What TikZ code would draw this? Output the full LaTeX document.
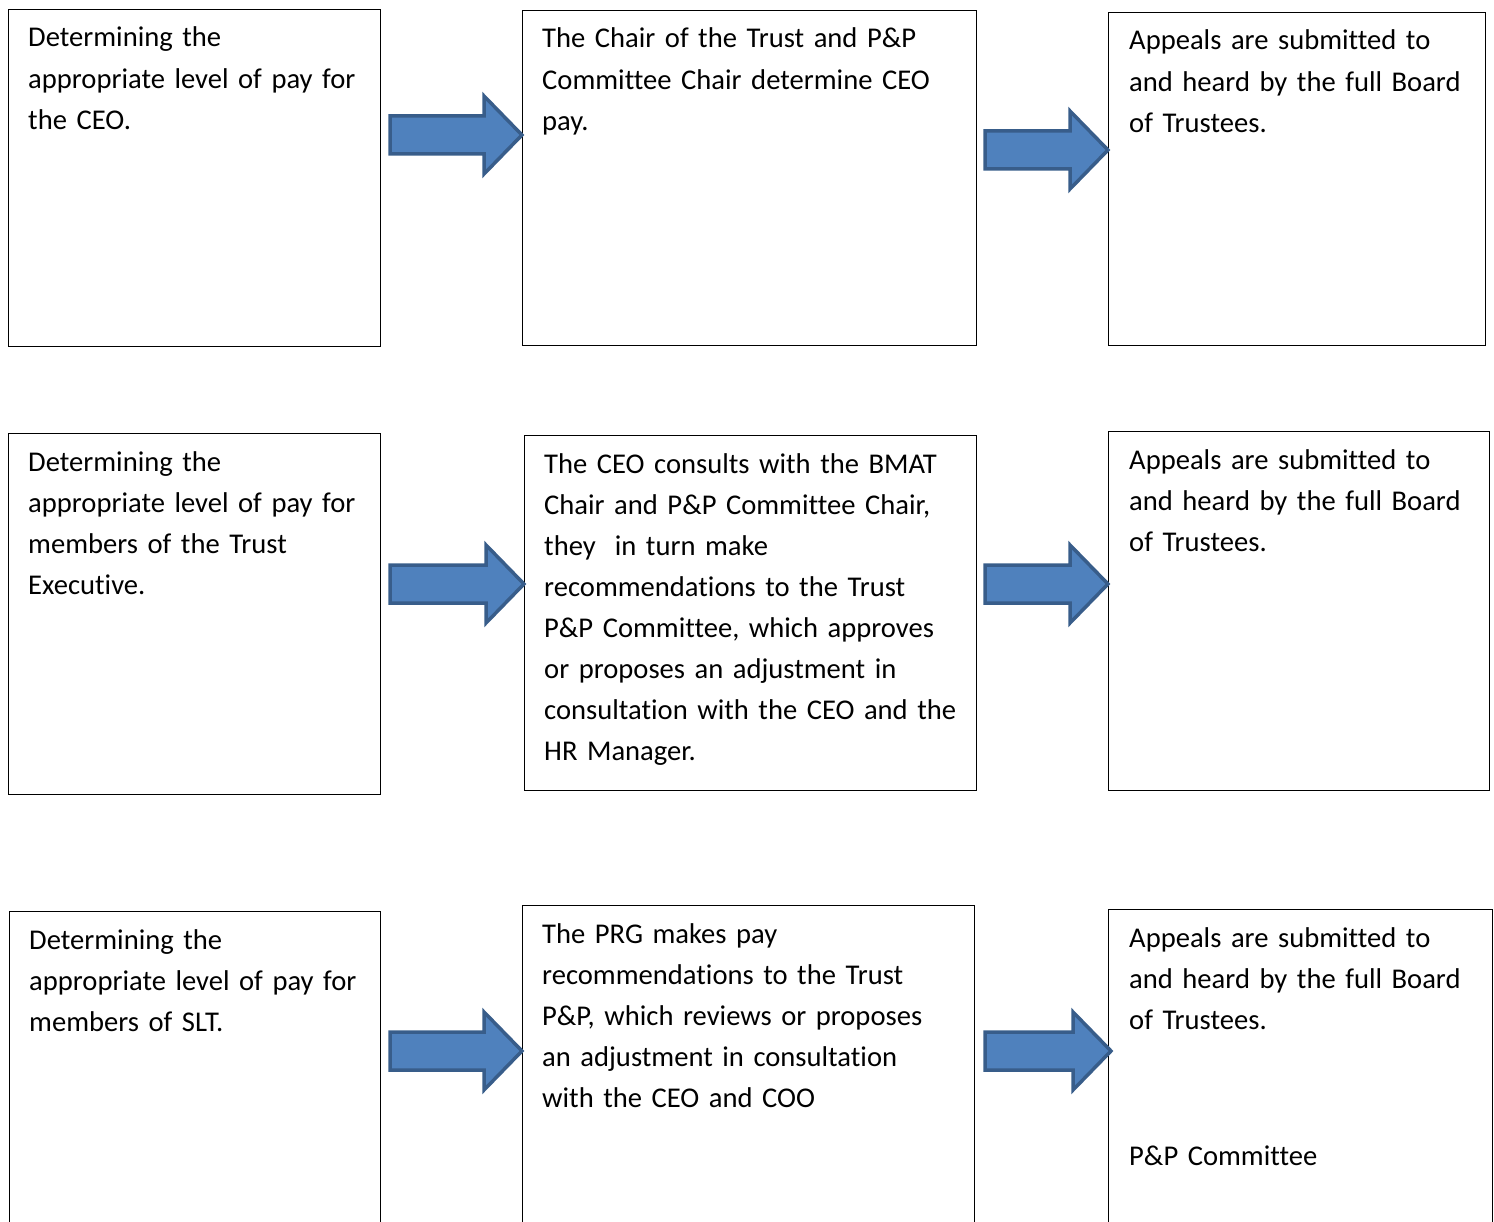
\documentclass[tikz,border=0pt]{standalone}
\usepackage{fontspec}
\setmainfont{Carlito}[Ligatures=NoCommon]
\usepackage{xcolor}
\usepackage{tikz}
\usetikzlibrary{calc}
\definecolor{arrowfill}{HTML}{4F81BD}
\definecolor{arrowline}{HTML}{385D8A}

\begin{document}
\begin{tikzpicture}[x=1pt, y=-1pt,
  box/.style={draw=black, line width=1.2pt, anchor=north west, inner sep=0pt},
  txt/.style={anchor=base west, inner sep=0pt, text width=440pt, align=left,
    font=\fontsize{28.6}{41.1}\selectfont},
  blockarrow/.style={draw=arrowline, fill=arrowfill, line width=3.5pt, line join=miter,
    to path={-- ($(\tikztostart)+(0,-19)$) -- ($(\tikztotarget)+(-38,-19)$)
      -- ($(\tikztotarget)+(-38,-39)$) -- (\tikztotarget)
      -- ($(\tikztotarget)+(-38,39)$) -- ($(\tikztotarget)+(-38,19)$)
      -- ($(\tikztostart)+(0,19)$) -- cycle}}]
\useasboundingbox (0,0) rectangle (1494,1222);
\clip (0,0) rectangle (1494,1222);
% row 1: CEO
\node[box, minimum width=372, minimum height=337] (a1) at (8,9) {};
\node[box, minimum width=454, minimum height=335] (b1) at (522,10) {};
\node[box, minimum width=377, minimum height=333] (c1) at (1108,12) {};
\node[txt] (a1t) at ([shift={(20,38)}]a1.north west) {Determining the\\appropriate level of pay for\\the CEO.};
\node[txt] (b1t) at ([shift={(20,38)}]b1.north west) {The Chair of the Trust and P\&P\\Committee Chair determine CEO\\pay.};
\node[txt] (c1t) at ([shift={(21,38)}]c1.north west) {Appeals are submitted to\\and heard by the full Board\\of Trustees.};
\draw[blockarrow] ([xshift=9]a1.east |- 0,135) to (b1.west |- 0,135);
\draw[blockarrow] ([xshift=8]b1.east |- 0,150) to (c1.west |- 0,150);
% row 2: Trust Executive
\node[box, minimum width=372, minimum height=361] (a2) at (8,433) {};
\node[box, minimum width=452, minimum height=355] (b2) at (524,435) {};
\node[box, minimum width=381, minimum height=359] (c2) at (1108,431) {};
\node[txt] (a2t) at ([shift={(20,38)}]a2.north west) {Determining the\\appropriate level of pay for\\members of the Trust\\Executive.};
\node[txt] (b2t) at ([shift={(20,38)}]b2.north west) {The CEO consults with the BMAT\\Chair and P\&P Committee Chair,\\they\ \ in turn make\\recommendations to the Trust\\P\&P Committee, which approves\\or proposes an adjustment in\\consultation with the CEO and the\\HR Manager.};
\node[txt] (c2t) at ([shift={(21,38)}]c2.north west) {Appeals are submitted to\\and heard by the full Board\\of Trustees.};
\draw[blockarrow] ([xshift=9]a2.east |- 0,584) to (b2.west |- 0,584);
\draw[blockarrow] ([xshift=8]b2.east |- 0,584) to (c2.west |- 0,584);
% row 3: SLT
\node[box, minimum width=371, minimum height=340] (a3) at (9,911) {};
\node[box, minimum width=452, minimum height=340] (b3) at (522,905) {};
\node[box, minimum width=384, minimum height=340] (c3) at (1108,909) {};
\node[txt] (a3t) at ([shift={(20,38)}]a3.north west) {Determining the\\appropriate level of pay for\\members of SLT.};
\node[txt] (b3t) at ([shift={(20,38)}]b3.north west) {The PRG makes pay\\recommendations to the Trust\\P\&P, which reviews or proposes\\an adjustment in consultation\\with the CEO and COO};
\node[txt] (c3t) at ([shift={(21,38)}]c3.north west) {Appeals are submitted to\\and heard by the full Board\\of Trustees.};
\node[txt] (c3p) at ([shift={(21,256)}]c3.north west) {P\&P Committee};
\draw[blockarrow] ([xshift=9]a3.east |- 0,1051) to (b3.west |- 0,1051);
\draw[blockarrow] ([xshift=10]b3.east |- 0,1051) to ([xshift=3]c3.west |- 0,1051);
\end{tikzpicture}
\end{document}
